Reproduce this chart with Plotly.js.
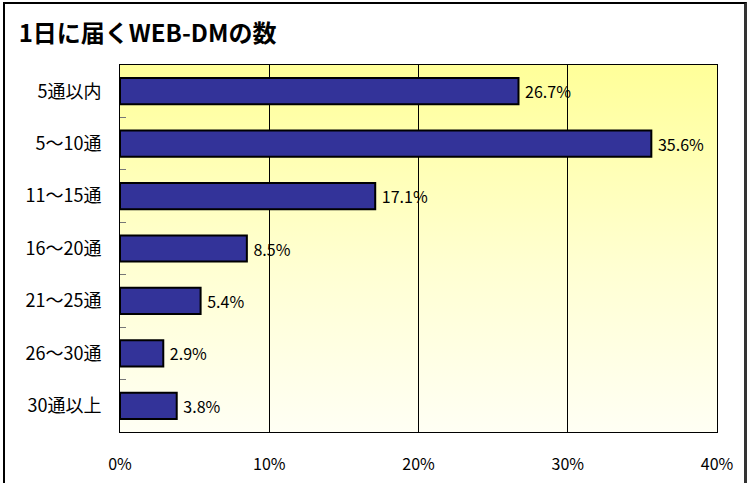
<!DOCTYPE html>
<html>
<head>
<meta charset="utf-8">
<script src="https://cdn.plot.ly/plotly-3.0.1.min.js"></script>
<style>
html,body{margin:0;padding:0;background:#fff;}
#wrap{position:relative;width:747px;height:483px;}
#chart{width:747px;height:483px;}
#frame{position:absolute;left:3px;top:2px;width:739px;height:490px;border-left:2px solid #000;border-top:2px solid #000;border-right:3px solid #333;pointer-events:none;}
</style>
</head>
<body>
<div id="wrap"><div id="chart"></div><div id="frame"></div></div>
<script>
const categories = ["5通以内", "5～10通", "11～15通", "16～20通", "21～25通", "26～30通", "30通以上"];
const values = [26.7, 35.6, 17.1, 8.5, 5.4, 2.9, 3.8];
const valueLabels = ["26.7%", "35.6%", "17.1%", "8.5%", "5.4%", "2.9%", "3.8%"];
const xTickVals = [0, 10, 20, 30, 40];
const xTickText = ["0%", "10%", "20%", "30%", "40%"];

const font = '"Noto Sans CJK JP", "Noto Sans", sans-serif';

const grad = 'data:image/svg+xml;utf8,' + encodeURIComponent(
  '<svg xmlns="http://www.w3.org/2000/svg" width="597" height="367" viewBox="0 0 597 367" preserveAspectRatio="none">' +
  '<defs><linearGradient id="g" x1="0" y1="1" x2="0" y2="0">' +
  '<stop offset="0" stop-color="#FFFFF4"/><stop offset="0.45" stop-color="#FFFFD2"/><stop offset="1" stop-color="#FFFF99"/></linearGradient></defs>' +
  '<rect x="0" y="0" width="597" height="367" fill="url(#g)"/></svg>');

const trace = {
  type: 'bar',
  orientation: 'h',
  y: categories,
  x: values,
  text: valueLabels,
  texttemplate: ' %{text}',
  textposition: 'outside',
  textfont: {family: font, size: 16, color: '#000'},
  cliponaxis: false,
  marker: {color: '#333399', line: {color: '#000', width: 2}},
  hoverinfo: 'none'
};

const layout = {
  width: 747, height: 483,
  margin: {l: 120, r: 30, t: 65, b: 51},
  paper_bgcolor: 'rgba(0,0,0,0)',
  plot_bgcolor: 'rgba(0,0,0,0)',
  showlegend: false,
  bargap: 0.5,
  title: {text: '<b>1日に届くWEB-DMの数</b>', x: 0.025, xanchor: 'left', y: 0.93, yanchor: 'middle',
          font: {family: font, size: 24, color: '#000'}},
  xaxis: {
    range: [0, 40], tickvals: xTickVals, ticktext: xTickText,
    showgrid: true, gridcolor: '#000', gridwidth: 1,
    showline: true, linecolor: '#000', linewidth: 1, mirror: true,
    zeroline: false, ticks: '', ticklabelstandoff: 18,
    tickfont: {family: font, size: 16, color: '#000'},
    fixedrange: true
  },
  yaxis: {
    autorange: 'reversed', type: 'category',
    showline: true, linecolor: '#000', linewidth: 1, mirror: true,
    showgrid: false, ticks: 'inside', tickson: 'boundaries', ticklen: 6, tickcolor: '#777', tickwidth: 1,
    ticklabelstandoff: 14,
    tickfont: {family: font, size: 18, color: '#000'},
    fixedrange: true
  },
  images: [{source: grad, xref: 'paper', yref: 'paper', x: 0, y: 1, sizex: 1, sizey: 1,
            sizing: 'stretch', xanchor: 'left', yanchor: 'top', layer: 'below'}]
};

Plotly.newPlot('chart', [trace], layout, {displayModeBar: false, staticPlot: true});
</script>
</body>
</html>
